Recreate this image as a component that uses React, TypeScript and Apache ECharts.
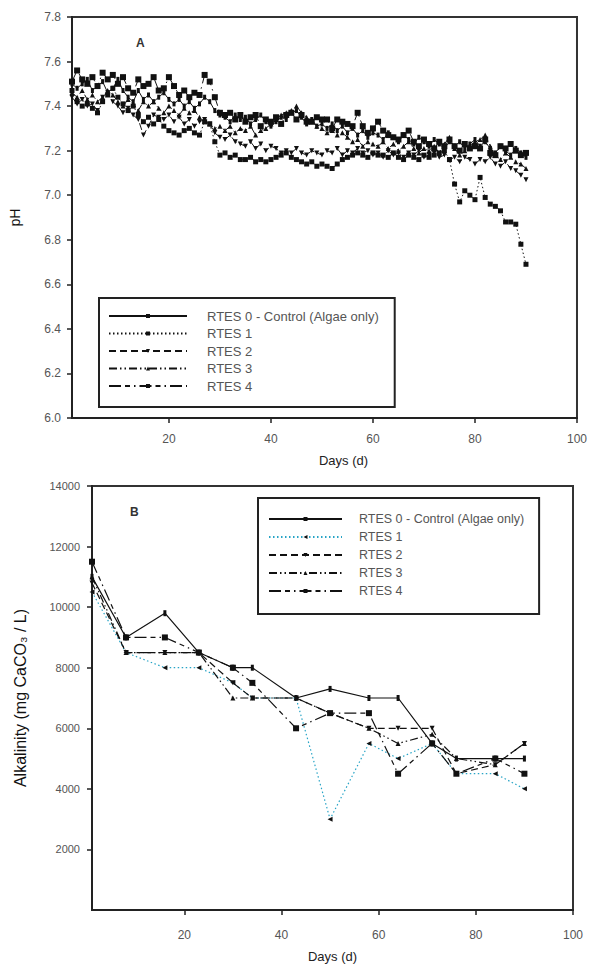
import React, { useEffect, useRef } from "react";
import * as echarts from "echarts";

const seriesNames = ["RTES 0 - Control (Algae only)", "RTES 1", "RTES 2", "RTES 3", "RTES 4"];
const xTickValues = [20, 40, 60, 80, 100];
const alkTickValues = [2000, 4000, 6000, 8000, 10000, 12000, 14000];

// Panel A: pH, daily readings (day 1..90)
const phDays = [
  1, 2, 3, 4, 5, 6, 7, 8, 9, 10, 11, 12, 13, 14, 15, 16, 17, 18, 19, 20,
  21, 22, 23, 24, 25, 26, 27, 28, 29, 30, 31, 32, 33, 34, 35, 36, 37, 38, 39, 40,
  41, 42, 43, 44, 45, 46, 47, 48, 49, 50, 51, 52, 53, 54, 55, 56, 57, 58, 59, 60,
  61, 62, 63, 64, 65, 66, 67, 68, 69, 70, 71, 72, 73, 74, 75, 76, 77, 78, 79, 80,
  81, 82, 83, 84, 85, 86, 87, 88, 89, 90,
];
const phRtes0 = [
  7.50, 7.48, 7.50, 7.52, 7.47, 7.49, 7.51, 7.46, 7.48, 7.52,
  7.47, 7.44, 7.42, 7.47, 7.43, 7.45, 7.42, 7.44, 7.46, 7.43,
  7.41, 7.43, 7.40, 7.42, 7.39, 7.41, 7.44, 7.42, 7.38, 7.36,
  7.35, 7.33, 7.36, 7.34, 7.35, 7.32, 7.34, 7.36, 7.33, 7.31,
  7.33, 7.35, 7.34, 7.37, 7.38, 7.35, 7.32, 7.34, 7.31, 7.32,
  7.30, 7.32, 7.29, 7.31, 7.28, 7.30, 7.27, 7.29, 7.26, 7.28,
  7.27, 7.25, 7.28, 7.26, 7.24, 7.27, 7.25, 7.23, 7.26, 7.24,
  7.22, 7.25, 7.23, 7.21, 7.24, 7.22, 7.24, 7.21, 7.23, 7.25,
  7.22, 7.24, 7.21, 7.19, 7.22, 7.20, 7.18, 7.21, 7.19, 7.17,
];
const phRtes1 = [
  7.47, 7.42, 7.40, 7.41, 7.39, 7.37, 7.42, 7.45, 7.48, 7.44,
  7.41, 7.38, 7.40, 7.36, 7.33, 7.35, 7.32, 7.34, 7.31, 7.29,
  7.28, 7.27, 7.29, 7.30, 7.28, 7.27, 7.33, 7.32, 7.24, 7.18,
  7.19, 7.17, 7.18, 7.16, 7.16, 7.17, 7.15, 7.16, 7.15, 7.16,
  7.17, 7.18, 7.19, 7.17, 7.16, 7.15, 7.14, 7.15, 7.13, 7.14,
  7.13, 7.12, 7.14, 7.16, 7.17, 7.18, 7.19, 7.18, 7.17, 7.19,
  7.18, 7.18, 7.17, 7.19, 7.17, 7.16, 7.18, 7.17, 7.16, 7.18,
  7.17, 7.18, 7.19, 7.20, 7.16, 7.05, 6.97, 7.02, 7.00, 6.98,
  7.08, 6.99, 6.96, 6.95, 6.93, 6.88, 6.88, 6.87, 6.78, 6.69,
];
const phRtes2 = [
  7.44, 7.41, 7.43, 7.40, 7.41, 7.38, 7.44, 7.46, 7.42, 7.40,
  7.37, 7.39, 7.36, 7.34, 7.27, 7.31, 7.36, 7.35, 7.34, 7.36,
  7.33, 7.35, 7.32, 7.34, 7.31, 7.33, 7.34, 7.32, 7.28, 7.26,
  7.25, 7.27, 7.24, 7.23, 7.22, 7.24, 7.21, 7.23, 7.20, 7.22,
  7.21, 7.19, 7.20, 7.19, 7.21, 7.19, 7.18, 7.20, 7.19, 7.18,
  7.20, 7.19, 7.21, 7.18, 7.20, 7.19, 7.21, 7.19, 7.20, 7.18,
  7.19, 7.17, 7.20, 7.18, 7.19, 7.17, 7.19, 7.18, 7.20, 7.17,
  7.18, 7.19, 7.17, 7.18, 7.16, 7.17, 7.15, 7.17, 7.16, 7.14,
  7.16, 7.15, 7.17, 7.14, 7.13, 7.15, 7.12, 7.11, 7.09, 7.07,
];
const phRtes3 = [
  7.46, 7.44, 7.47, 7.43, 7.45, 7.42, 7.44, 7.47, 7.45, 7.42,
  7.40, 7.43, 7.41, 7.38, 7.42, 7.40, 7.42, 7.39, 7.37, 7.40,
  7.38, 7.36, 7.39, 7.37, 7.38, 7.35, 7.33, 7.32, 7.30, 7.31,
  7.29, 7.31, 7.28, 7.30, 7.29, 7.31, 7.27, 7.29, 7.30, 7.32,
  7.34, 7.36, 7.37, 7.38, 7.40, 7.37, 7.35, 7.33, 7.31, 7.30,
  7.28, 7.29, 7.27, 7.28, 7.26, 7.24, 7.25, 7.22, 7.24, 7.23,
  7.22, 7.24, 7.21, 7.23, 7.20, 7.22, 7.24, 7.21, 7.19, 7.21,
  7.20, 7.22, 7.19, 7.23, 7.26, 7.21, 7.18, 7.20, 7.22, 7.24,
  7.25, 7.27, 7.22, 7.18, 7.16, 7.19, 7.17, 7.15, 7.14, 7.12,
];
const phRtes4 = [
  7.51, 7.56, 7.52, 7.50, 7.53, 7.49, 7.55, 7.52, 7.54, 7.50,
  7.53, 7.48, 7.46, 7.52, 7.49, 7.50, 7.53, 7.47, 7.48, 7.53,
  7.49, 7.45, 7.47, 7.44, 7.46, 7.45, 7.54, 7.51, 7.44, 7.37,
  7.36, 7.37, 7.34, 7.36, 7.33, 7.35, 7.36, 7.31, 7.34, 7.33,
  7.35, 7.32, 7.36, 7.37, 7.34, 7.36, 7.33, 7.33, 7.35, 7.34,
  7.34, 7.30, 7.34, 7.33, 7.32, 7.31, 7.37, 7.31, 7.28, 7.30,
  7.33, 7.29, 7.27, 7.26, 7.25, 7.27, 7.29, 7.24, 7.22, 7.25,
  7.23, 7.21, 7.24, 7.22, 7.25, 7.22, 7.20, 7.23, 7.21, 7.22,
  7.21, 7.25, 7.19, 7.18, 7.22, 7.21, 7.23, 7.20, 7.18, 7.19,
];

// Panel B: alkalinity (mg CaCO3 / L)
const alkDays = [1, 8, 16, 23, 30, 34, 43, 50, 58, 64, 71, 76, 84, 90];
const alkRtes0 = [11000, 9000, 9800, 8500, 8000, 8000, 7000, 7300, 7000, 7000, 5500, 5000, 5000, 5000];
const alkRtes1 = [10500, 8500, 8000, 8000, 7500, 7000, 7000, 3000, 5500, 5000, 5500, 4500, 4500, 4000];
const alkRtes2 = [10800, 8500, 8500, 8500, 7500, 7000, 7000, 6500, 6000, 6000, 6000, 4500, 4800, 5500];
const alkRtes3 = [11000, 8500, 8500, 8500, 7000, 7000, 7000, 6500, 6000, 5500, 5800, 5000, 4800, 5500];
const alkRtes4 = [11500, 9000, 9000, 8500, 8000, 7500, 6000, 6500, 6500, 4500, 5500, 4500, 5000, 4500];

const phData = [phRtes0, phRtes1, phRtes2, phRtes3, phRtes4];
const alkData = [alkRtes0, alkRtes1, alkRtes2, alkRtes3, alkRtes4];

const CYAN = "#27a4c6";
const FONT = "Liberation Sans, Arial, sans-serif";

const lineTypes: any[] = [
  "solid",
  [1.5, 2.5],
  [7, 4],
  [8, 3, 1.5, 3, 1.5, 3],
  [12, 4, 5, 4, 1.5, 4],
];
const symbolsA: any[] = [
  { symbol: "rect", size: [3, 5], rotate: 0 },
  { symbol: "rect", size: 5, rotate: 0 },
  { symbol: "triangle", size: 5, rotate: 180 },
  { symbol: "triangle", size: 5, rotate: 0 },
  { symbol: "rect", size: 6, rotate: 0 },
];
const symbolsB: any[] = [
  { symbol: "rect", size: [3, 6], rotate: 0 },
  { symbol: "triangle", size: 5, rotate: 90 },
  { symbol: "triangle", size: 5, rotate: 180 },
  { symbol: "triangle", size: 5, rotate: 0 },
  { symbol: "rect", size: 6, rotate: 0 },
];
const lineColorsB = ["#111", CYAN, "#111", "#111", "#111"];

const B_SUFFIX = "\u200b(B)";

function axisCommon() {
  return {
    axisLine: { show: true, onZero: false, lineStyle: { color: "#222", width: 2 } },
    axisTick: { show: true, inside: false, length: 5, lineStyle: { color: "#222", width: 1.5 } },
    splitLine: { show: false },
  };
}

export default function App() {
  const ref = useRef<HTMLDivElement>(null);
  useEffect(() => {
    if (!ref.current) return;
    const chart = echarts.init(ref.current, undefined, { renderer: "svg" });

    const seriesA = seriesNames.map((name, k) => ({
      name,
      type: "line",
      xAxisIndex: 0,
      yAxisIndex: 0,
      data: phDays.map((d, i) => [d, phData[k][i]]),
      symbol: symbolsA[k].symbol,
      symbolSize: symbolsA[k].size,
      symbolRotate: symbolsA[k].rotate,
      showAllSymbol: true,
      lineStyle: { color: "#111", width: 1, type: lineTypes[k] },
      itemStyle: { color: "#111" },
      z: 2 + k,
    }));
    const seriesB = seriesNames.map((name, k) => ({
      name: name + B_SUFFIX,
      type: "line",
      xAxisIndex: 1,
      yAxisIndex: 1,
      data: alkDays.map((d, i) => [d, alkData[k][i]]),
      symbol: symbolsB[k].symbol,
      symbolSize: symbolsB[k].size,
      symbolRotate: symbolsB[k].rotate,
      showAllSymbol: true,
      lineStyle: { color: lineColorsB[k], width: 1.2, type: lineTypes[k] },
      itemStyle: { color: "#111" },
      z: 2 + k,
    }));

    chart.setOption({
      animation: false,
      backgroundColor: "#fff",
      textStyle: { fontFamily: FONT },
      grid: [
        { left: 71, top: 17, width: 507, height: 401, show: true, borderColor: "#333", borderWidth: 2, containLabel: false },
        { left: 92, top: 486, width: 481, height: 424, show: true, borderColor: "#333", borderWidth: 2, containLabel: false },
      ],
      xAxis: [
        {
          type: "value", gridIndex: 0, min: 1, max: 100,
          ...axisCommon(),
          axisTick: { show: true, inside: false, length: 5, customValues: xTickValues, lineStyle: { color: "#222", width: 1.5 } },
          axisLabel: { customValues: xTickValues, margin: 15, fontSize: 12, color: "#555", fontFamily: FONT },
          name: "Days (d)", nameLocation: "middle", nameGap: 36,
          nameTextStyle: { fontSize: 13, color: "#222", fontFamily: FONT, padding: [0, 0, 0, 38] },
        },
        {
          type: "value", gridIndex: 1, min: 1, max: 100,
          ...axisCommon(),
          axisTick: { show: true, inside: false, length: 5, customValues: xTickValues, lineStyle: { color: "#222", width: 1.5 } },
          axisLabel: { customValues: xTickValues, margin: 19, fontSize: 12, color: "#555", fontFamily: FONT },
          name: "Days (d)", nameLocation: "middle", nameGap: 40,
          nameTextStyle: { fontSize: 13, color: "#222", fontFamily: FONT },
        },
      ],
      yAxis: [
        {
          type: "value", gridIndex: 0, min: 6, max: 7.8, interval: 0.2,
          ...axisCommon(),
          axisLabel: { margin: 11, fontSize: 12, color: "#555", fontFamily: FONT, formatter: (v: number) => v.toFixed(1) },
          name: "pH", nameLocation: "middle", nameGap: 50, nameRotate: 90,
          nameTextStyle: { fontSize: 14, color: "#111", fontFamily: FONT },
        },
        {
          type: "value", gridIndex: 1, min: 0, max: 14000, interval: 2000,
          ...axisCommon(),
          axisTick: { show: true, inside: false, length: 5, customValues: alkTickValues, lineStyle: { color: "#222", width: 1.5 } },
          axisLabel: { customValues: alkTickValues, margin: 12, fontSize: 11, color: "#555", fontFamily: FONT, formatter: (v: number) => String(v) },
          name: "Alkalinity (mg CaCO\u2083 / L)", nameLocation: "middle", nameGap: 64, nameRotate: 90,
          nameTextStyle: { fontSize: 16, color: "#111", fontFamily: FONT },
        },
      ],
      legend: [
        {
          left: 99, top: 298, orient: "vertical",
          data: seriesNames,
          itemWidth: 78, itemHeight: 5, itemGap: 3.5,
          padding: [11, 16, 14, 9],
          borderColor: "#222", borderWidth: 2, backgroundColor: "#fff",
          selectedMode: false,
          textStyle: { fontSize: 13, color: "#555", fontFamily: FONT, lineHeight: 14, padding: [0, 0, 0, 15] },
        },
        {
          left: 258, top: 498, orient: "vertical",
          data: seriesNames.map((n) => n + B_SUFFIX),
          formatter: (n: string) => n.replace(B_SUFFIX, ""),
          itemWidth: 73, itemHeight: 5, itemGap: 4,
          padding: [14, 15, 16, 10],
          borderColor: "#222", borderWidth: 2, backgroundColor: "#fff",
          selectedMode: false,
          textStyle: { fontSize: 12.5, color: "#555", fontFamily: FONT, lineHeight: 14, padding: [0, 0, 0, 12] },
        },
      ],
      graphic: [
        { type: "text", left: 136, top: 37, style: { text: "A", fontSize: 12, fontWeight: "bold", fill: "#333", fontFamily: FONT } },
        { type: "text", left: 130, top: 506, style: { text: "B", fontSize: 12, fontWeight: "bold", fill: "#333", fontFamily: FONT } },
      ],
      series: [...seriesA, ...seriesB],
    });
    return () => chart.dispose();
  }, []);
  return <div ref={ref} style={{ position: "absolute", left: 0, top: 0, width: 590, height: 965 }} />;
}
